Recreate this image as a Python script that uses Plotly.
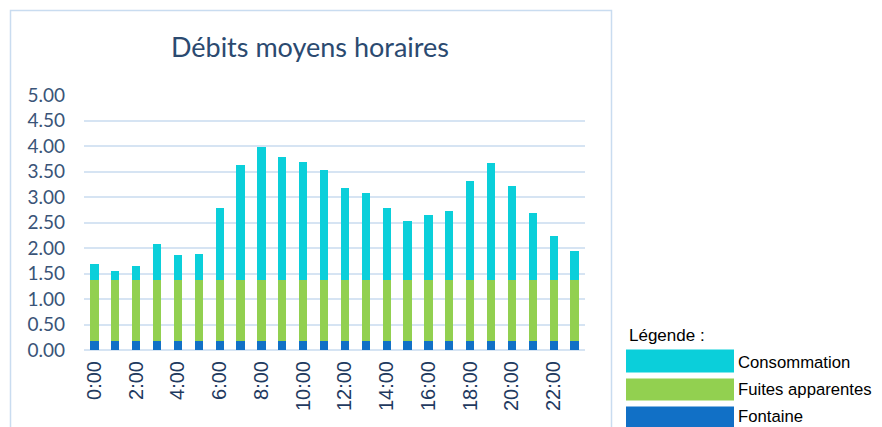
import plotly.graph_objects as go

hours = [f"{h}:00" for h in range(24)]
tick_labels = [f"{h}:00" for h in range(0, 24, 2)]
fontaine = [0.18] * 24
fuites = [1.20] * 24
totals = [1.68, 1.55, 1.65, 2.07, 1.86, 1.89, 2.78, 3.63, 3.98, 3.79, 3.68, 3.52,
          3.17, 3.07, 2.78, 2.52, 2.64, 2.73, 3.31, 3.66, 3.22, 2.69, 2.23, 1.95]
consommation = [round(t - f - g, 2) for t, f, g in zip(totals, fontaine, fuites)]

series = [("Fontaine", fontaine, "#1170C6"),
          ("Fuites apparentes", fuites, "#92D050"),
          ("Consommation", consommation, "#0BCFDA")]

fig = go.Figure()
for name, vals, col in series:
    fig.add_trace(go.Bar(x=hours, y=vals, name=name, marker=dict(color=col, line=dict(width=0)),
                         showlegend=False))

# page offset (body margin) compensation
OX, OY = 8, 8
W, H = 882, 427
# desired plot area in screen pixels: x 84..585, y 95..350
L, T = 84 - OX, 95 - OY
pw, ph = 501, 255
R = W - L - pw
B = H - T - ph

def px(x):
    return (x - OX - L) / pw

def py(y):
    return (T + ph - (y - OY)) / ph

shapes = [dict(type="rect", xref="paper", yref="paper", x0=px(10.5), x1=px(611.5), y0=py(440), y1=py(10.5),
               line=dict(color="#C9DCF0", width=1.5), fillcolor="rgba(0,0,0,0)", layer="below")]
annotations = [dict(text="Légende :", xref="paper", yref="paper", x=px(627), y=py(335), xanchor="left",
                    yanchor="middle", showarrow=False, font=dict(family="Liberation Sans", size=17, color="#000000"))]
leg = [("Consommation", "#0BCFDA", 349.5, 372.5, 362), ("Fuites apparentes", "#92D050", 378.5, 400.5, 390),
       ("Fontaine", "#1170C6", 406.5, 429, 416.5)]
for name, col, y0, y1, yt in leg:
    shapes.append(dict(type="rect", xref="paper", yref="paper", x0=px(626), x1=px(734), y0=py(y1), y1=py(y0),
                       line=dict(width=0), fillcolor=col))
    annotations.append(dict(text=name, xref="paper", yref="paper", x=px(736), y=py(yt),
                            xanchor="left", yanchor="middle", showarrow=False,
                            font=dict(family="Liberation Sans", size=16.7, color="#000000")))

fig.update_layout(
    width=W, height=H,
    margin=dict(l=L, r=R, t=T, b=B, autoexpand=False),
    barmode="stack", bargap=0.6,
    paper_bgcolor="white", plot_bgcolor="white",
    title=dict(text="Débits moyens horaires", xref="paper", x=px(310), xanchor="center",
               yref="container", y=1 - (48 - OY) / H, yanchor="middle",
               font=dict(family="Lato", size=27, color="#2B4A70")),
    xaxis=dict(type="category", tickmode="array", tickvals=tick_labels, ticktext=tick_labels,
               tickangle=-90, tickfont=dict(family="Liberation Sans", size=20, color="#1F3A60"),
               showgrid=False, showline=False, ticks="", ticklabelstandoff=6),
    yaxis=dict(range=[0, 5], tickvals=[i * 0.5 for i in range(11)], tickformat=".2f",
               tickfont=dict(family="Lato", size=19, color="#3A5478"),
               gridcolor="#D6E4F3", gridwidth=2, zeroline=True, zerolinecolor="#D6E4F3", zerolinewidth=2,
               showline=False, ticks="", ticklabelstandoff=18),
    shapes=shapes, annotations=annotations,
)

fig.write_html("out.html")
